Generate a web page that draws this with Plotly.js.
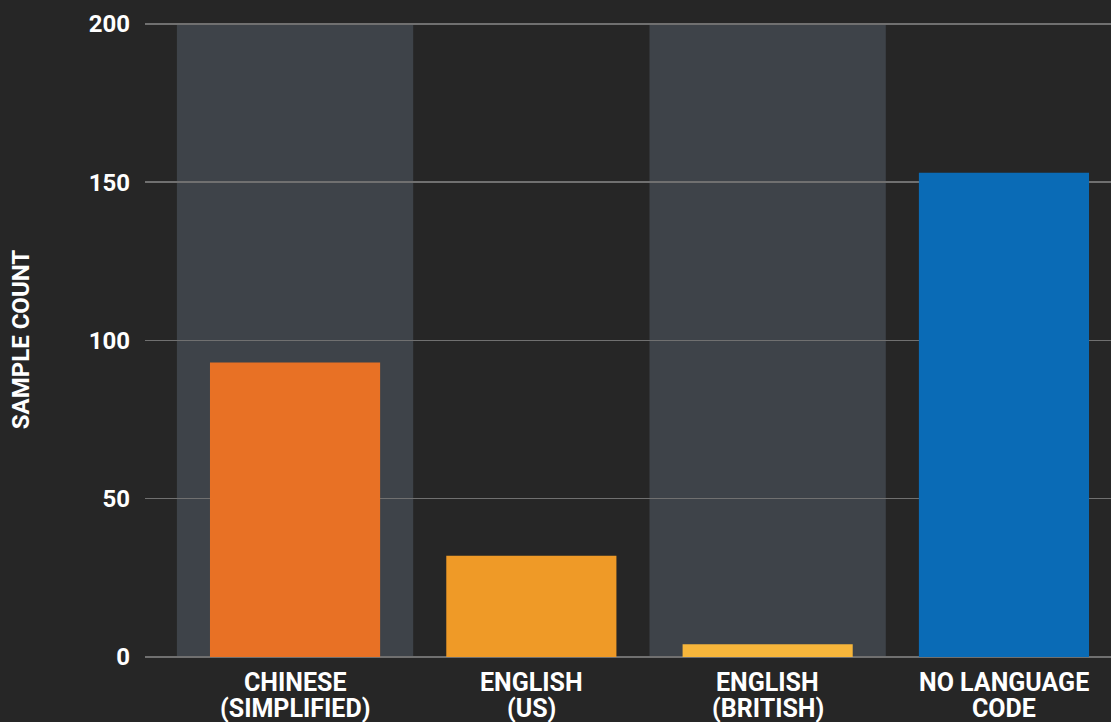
<!DOCTYPE html>
<html>
<head>
<meta charset="utf-8">
<script src="https://cdn.plot.ly/plotly-3.0.1.min.js"></script>
<style>
html,body{margin:0;padding:0;background:#262626;}
#chart{width:1111px;height:722px;}
</style>
</head>
<body>
<div id="chart"></div>
<script>
const categoryLine1 = ["CHINESE", "ENGLISH", "ENGLISH", "NO LANGUAGE"];
const categoryLine2 = ["(SIMPLIFIED)", "(US)", "(BRITISH)", "CODE"];
const sampleCounts = [93, 32, 4, 153];
const barColors = ["#e87125", "#ef9a27", "#f7b63b", "#0a6bb6"];
const yTickValues = [0, 50, 100, 150, 200];

const xIdx = categoryLine1.map((c, i) => i);
const FONT = "Roboto, 'Noto Sans', sans-serif";

const bandShapes = xIdx.filter(i => i % 2 === 0).map(i => ({
  type: "rect", xref: "x", yref: "y", layer: "below",
  x0: i - 0.5, x1: i + 0.5, y0: 0, y1: 200,
  fillcolor: "#3e4349", line: {width: 0}
}));

const labelAnnotations = [];
xIdx.forEach(i => {
  labelAnnotations.push({x: i, y: 0, xref: "x", yref: "y", yanchor: "middle", yshift: -25,
    text: "<b>" + categoryLine1[i] + "</b>", showarrow: false,
    font: {size: 25, color: "#ffffff", family: FONT}});
  labelAnnotations.push({x: i, y: 0, xref: "x", yref: "y", yanchor: "middle", yshift: -51,
    text: "<b>" + categoryLine2[i] + "</b>", showarrow: false,
    font: {size: 25, color: "#ffffff", family: FONT}});
});

const trace = {
  type: "bar",
  x: xIdx,
  y: sampleCounts,
  marker: {color: barColors, line: {width: 0}},
  width: 0.72,
  hoverinfo: "none"
};

const layout = {
  width: 1111, height: 722,
  margin: {l: 145, r: 0, t: 22, b: 65},
  paper_bgcolor: "#262626",
  plot_bgcolor: "#262626",
  font: {family: FONT, color: "#ffffff"},
  showlegend: false,
  shapes: bandShapes,
  annotations: labelAnnotations,
  xaxis: {
    range: [-0.635, 3.453],
    showticklabels: false,
    showgrid: false, zeroline: false, showline: false,
    ticks: "", fixedrange: true
  },
  yaxis: {
    range: [0, 200.6],
    tickmode: "array",
    tickvals: yTickValues,
    ticktext: yTickValues.map(v => "<b>" + v + "</b>"),
    tickfont: {size: 24, color: "#ffffff", family: FONT},
    showgrid: true, gridcolor: "#707070", gridwidth: 1.4,
    zeroline: true, zerolinecolor: "#707070", zerolinewidth: 1.5,
    showline: false, ticks: "", ticklabelstandoff: 14,
    title: {text: "<b>SAMPLE COUNT</b>", font: {size: 24, color: "#ffffff", family: FONT}, standoff: 52},
    fixedrange: true
  }
};

Plotly.newPlot("chart", [trace], layout, {displayModeBar: false, staticPlot: true});
</script>
</body>
</html>
